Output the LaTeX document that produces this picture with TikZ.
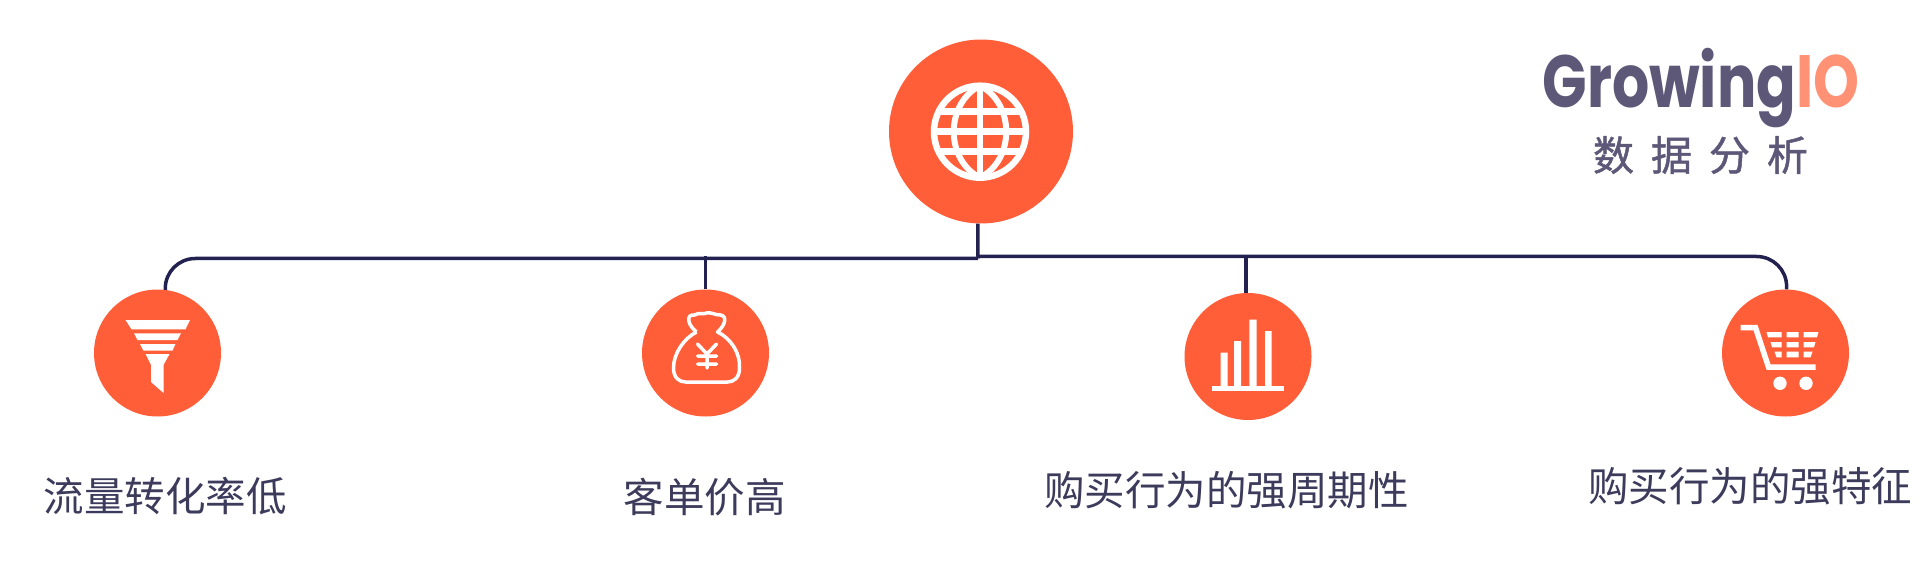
\documentclass[tikz,border=0pt]{standalone}
\usepackage{fontspec}
\usepackage{xcolor}
\setmainfont{Noto Sans CJK SC}
\newfontfamily\logofont{Poppins}
\newfontfamily\logosubfont[FakeBold=1.2]{Noto Sans CJK SC}
\definecolor{hubred}{HTML}{FF5E38}
\definecolor{linknavy}{HTML}{23214F}
\definecolor{labelink}{HTML}{3D3B5C}
\definecolor{logoslate}{HTML}{5D5878}
\definecolor{logopeach}{HTML}{FF9175}
\tikzset{
  bigdot/.style={circle,fill=hubred,inner sep=0pt,minimum size=184pt},
  dot/.style={circle,fill=hubred,inner sep=0pt,minimum size=127pt},
  linkline/.style={draw=linknavy,line width=3.5pt},
  icon/.style={white,line width=3.5pt},
  itemlabel/.style={text=labelink,font=\fontsize{40.5}{40.5}\selectfont,inner sep=0pt}
}
\begin{document}
\begin{tikzpicture}[x=1pt,y=-1pt]
  \useasboundingbox (0,0) rectangle (1920,572);
  \node[bigdot] (hub) at (981,131.5) {};
  \node[dot] (funnel) at (157.5,353) {};
  \node[dot] (bag) at (705.5,353) {};
  \node[dot] (bars) at (1248,356.5) {};
  \node[dot] (cart) at (1785.5,353) {};
  \coordinate (jointl) at (978,258.5);
  \coordinate (jointr) at (978,256.5);
  % connectors
  \draw[linkline] (hub.268) -- (jointl);
  \draw[linkline,rounded corners=30pt] (funnel.83) |- (jointl);
  \draw[linkline,rounded corners=30pt] (cart.89) |- (jointr);
  \draw[linkline] (bag.north) -- (bag.north |- jointr);
  \draw[linkline] (bars.92) -- (bars.92 |- jointr);
  % globe
  \begin{scope}[shift={(980,131.7)}]
    \draw[icon,line width=6.5pt] (0,0) circle (46);
    \clip (0,0) circle (46);
    \draw[icon,line width=6.5pt] (0,-46) -- (0,46) (-46,-20) -- (46,-20) (-46,0) -- (46,0) (-46,20) -- (46,20);
    \draw[icon,line width=6pt] (0,-46) .. controls (-35,-28) and (-35,28) .. (0,46);
    \draw[icon,line width=6pt] (0,-46) .. controls (35,-28) and (35,28) .. (0,46);
  \end{scope}
  % funnel
  \begin{scope}[shift={(funnel.center)}]
    \fill[white] (-32,-33) -- (32.5,-33) -- (28,-23.7) -- (-26,-23.7) -- cycle;
    \fill[white] (-23.5,-19.7) -- (23.5,-19.7) -- (20,-13) -- (-20,-13) -- cycle;
    \fill[white] (-17.5,-9) -- (18,-9) -- (15,-2.3) -- (-14,-2.3) -- cycle;
    \fill[white] (-12,1) -- (12,1) -- (6,12) -- (6,40) -- (-6.5,29) -- (-6.5,12) -- cycle;
  \end{scope}
  % money bag
  \begin{scope}[shift={(bag.center)}]
    \draw[icon,line join=round] (-9,-21) .. controls (-18,-28) and (-20,-39) .. (-11,-38)
      .. controls (-6,-41) and (-3,-38) .. (1,-40) .. controls (6,-41) and (9,-38) .. (15,-38)
      .. controls (22,-37) and (20,-28) .. (12,-21)
      .. controls (25,-15) and (35,0) .. (34,15) .. controls (34,25) and (28,29) .. (22,29)
      -- (-20,29) .. controls (-26,29) and (-32,25) .. (-32,15) .. controls (-32,0) and (-21,-15) .. (-9,-21);
    \draw[white,line width=3.5pt,line cap=round] (-8,-9) -- (1.5,1) -- (11,-9) (1.5,1) -- (1.5,15)
      (-8,3) -- (11,3) (-8,11) -- (11,11);
  \end{scope}
  % bar chart
  \begin{scope}[shift={(bars.center)}]
    \fill[white] (-27.3,-4) rectangle (-20.3,30) (-14,-15.5) rectangle (-7,30)
      (1.3,-37) rectangle (8.7,30) (17,-25.5) rectangle (23.7,30);
    \fill[white] (-36.3,29.5) rectangle (36.3,34.5);
  \end{scope}
  % cart
  \begin{scope}[shift={(cart.center)}]
    \draw[icon,line width=5.5pt] (-44.8,-25.3) -- (-30,-25.3) -- (-17,14) -- (30,14);
    \fill[white] (-19,-21) -- (-4,-21) -- (-4,-15.7) -- (-17.5,-15.7) -- cycle
      (1,-21) -- (13,-21) -- (13,-15.7) -- (1,-15.7) -- cycle
      (18,-21) -- (33,-21) -- (31.5,-15.7) -- (18,-15.7) -- cycle
      (-15,-11) -- (-4,-11) -- (-4,-5.7) -- (-13.5,-5.7) -- cycle
      (1,-11) -- (13,-11) -- (13,-5.7) -- (1,-5.7) -- cycle
      (18,-11) -- (30,-11) -- (28.5,-5.7) -- (18,-5.7) -- cycle
      (-11,-1.3) -- (-4,-1.3) -- (-4,4.3) -- (-9,4.3) -- cycle
      (1,-1.3) -- (13,-1.3) -- (13,4.3) -- (1,4.3) -- cycle
      (18,-1.3) -- (27,-1.3) -- (25,4.3) -- (18,4.3) -- cycle;
    \fill[white] (-5.5,30.3) circle (6.7) (20.5,30.3) circle (6.7);
  \end{scope}
  % labels
  \node[itemlabel] (funnellabel) at (165,496.5) {流量转化率低};
  \node[itemlabel] (baglabel) at (704.5,497) {客单价高};
  \node[itemlabel] (barslabel) at (1226.5,490.5) {购买行为的强周期性};
  \node[itemlabel] (cartlabel) at (1750,486.5) {购买行为的强特征};
  % logo
  \node[inner sep=0pt,anchor=base,xscale=0.79,font=\logofont\bfseries\fontsize{74}{74}\selectfont,text=logoslate] (logo) at (1701,108)
    {Growing\textcolor{logopeach}{IO}};
  \node[inner sep=0pt,font=\logosubfont\fontsize{41}{41}\selectfont,text=logoslate] (logosub) at (1700.5,155)
    {数\hspace{17pt}据\hspace{17pt}分\hspace{17pt}析};
\end{tikzpicture}
\end{document}
